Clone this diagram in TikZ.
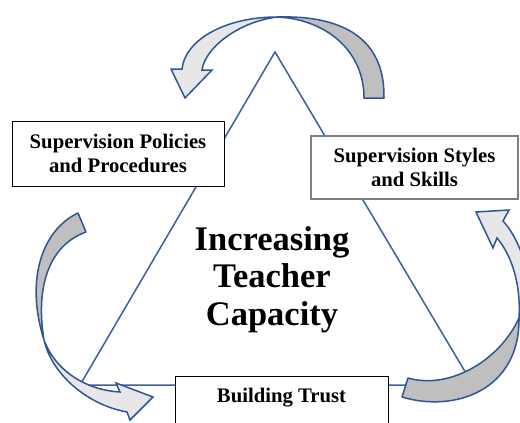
\documentclass[tikz,border=0pt]{standalone}
\usepackage{fontspec}
\setmainfont{Liberation Serif}
\definecolor{lineblue}{HTML}{3C5FA3}
\definecolor{arrowline}{HTML}{2F5597}
\definecolor{arrowdark}{HTML}{BFBFBF}
\definecolor{arrowlight}{HTML}{E7E7E7}
\definecolor{boxgray}{HTML}{7F7F7F}
\begin{document}
\begin{tikzpicture}[x=1pt,y=-1pt,
  triedge/.style={draw=lineblue, line width=1.5pt},
  boxlabel/.style={font=\bfseries\fontsize{20.7}{24}\selectfont, align=center, inner sep=0pt},
  labelbox/.style={draw=black, line width=0.9pt, fill=white, boxlabel},
  arrowback/.style={fill=arrowdark, draw=arrowline, line width=1.5pt, line join=round},
  arrowfront/.style={fill=arrowlight, draw=arrowline, line width=1.5pt, line join=miter},
  centrelabel/.style={font=\bfseries\fontsize{34.5}{37.5}\selectfont, align=center, inner sep=0pt}]

% canvas
\fill[white] (0,0) rectangle (520,423);
\clip (0,0) rectangle (520,423);

% triangle
\coordinate (apex) at (275,52);
\coordinate (bl) at (80,385);
\coordinate (br) at (473,385);
\draw[triedge] (apex) -- (bl) -- (br) -- cycle;

% labelled boxes
\node[labelbox, minimum width=212pt, minimum height=65pt] (policies) at (118,153.5)
  {Supervision Policies\\and Procedures};
\node[labelbox, draw=boxgray, line width=1.6pt, minimum width=207pt, minimum height=63pt] (styles) at (414.5,167.5)
  {Supervision Styles\\and Skills};
\node[labelbox, minimum width=213pt, minimum height=70pt, anchor=north] (trust) at (281.5,376) {};
\node[boxlabel] (trusttext) at (281.5,398) {Building Trust};

% centre text
\node[centrelabel] (capacity) at (272,279.5) {Increasing\\Teacher\\Capacity};

% top curved arrow
\path[arrowback] (384,98) .. controls (385,40) and (345,15) .. (277,17)
  .. controls (325,19) and (364,50) .. (364,98) -- cycle;
\path[arrowfront] (277,17) .. controls (225,17) and (185,40) .. (182,69)
  -- (171,69) -- (185,98) -- (212,70) -- (202,70)
  .. controls (205,48) and (238,22) .. (277,17) -- cycle;

% left curved arrow
\path[arrowback] (78,213) .. controls (42,230) and (25,280) .. (44,340)
  .. controls (35,285) and (50,245) .. (86,232) -- cycle;
\path[arrowfront] (44,340) .. controls (52,375) and (88,405) .. (127,412)
  -- (130,420) -- (153,397) -- (116,383) -- (120,392)
  .. controls (85,390) and (55,370) .. (44,340) -- cycle;

% right curved arrow
\path[arrowback] (408,378) .. controls (450,390) and (500,360) .. (519,318)
  .. controls (520,390) and (455,413) .. (402,397) -- cycle;
\path[arrowfront] (519,318) .. controls (521,290) and (514,258) .. (497,238)
  -- (493,248) -- (476,212) -- (509,210) -- (503,221)
  .. controls (525,245) and (537,295) .. (519,318) -- cycle;
\end{tikzpicture}
\end{document}
